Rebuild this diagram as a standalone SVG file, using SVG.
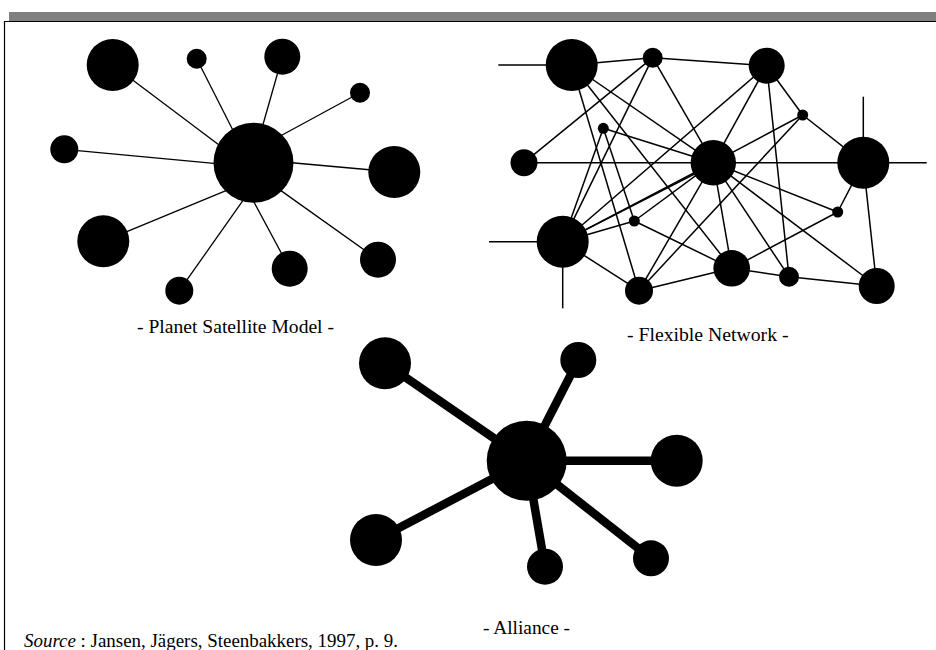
<svg xmlns="http://www.w3.org/2000/svg" width="936" height="650" viewBox="0 0 936 650">
<style>
.n{fill:#000}
.thin{stroke:#000;stroke-width:1.3;fill:none}
.net{stroke:#000;stroke-width:1.5;fill:none}
.thick{stroke:#000;stroke-width:8.5;fill:none}
text{font-family:'Liberation Serif',serif;fill:#000}
.lbl{font-size:19.5px}
.src{font-size:19px}
</style>
<rect x="0" y="0" width="936" height="650" fill="#fff"/>
<g id="frame">
<rect x="9" y="12" width="927" height="9.5" fill="#808080"/>
<path d="M4.5 650 V21.5 H936" stroke="#000" stroke-width="1.2" fill="none"/>
</g>

<!-- Planet Satellite Model -->
<g id="planet-connectors" class="thin">
<line x1="112.7" y1="65" x2="220.7" y2="146.3"/>
<line x1="196.7" y1="58.7" x2="234.6" y2="133.5"/>
<line x1="282.3" y1="56.7" x2="262" y2="128"/>
<line x1="360" y1="92.7" x2="278.9" y2="136.7"/>
<line x1="64.3" y1="149.3" x2="219.3" y2="163.8"/>
<line x1="394.3" y1="172" x2="289" y2="162.5"/>
<line x1="103.3" y1="241.3" x2="229.6" y2="189.1"/>
<line x1="179.3" y1="290.7" x2="244.6" y2="198.2"/>
<line x1="289.7" y1="268.7" x2="252" y2="198.3"/>
<line x1="378" y1="259.7" x2="279.2" y2="189.4"/>
</g>
<g id="p-hub"><circle class="n" cx="253.5" cy="162.7" r="40"/></g>
<g id="p-s1"><circle class="n" cx="112.7" cy="65" r="26"/></g>
<g id="p-s2"><circle class="n" cx="196.7" cy="58.7" r="10"/></g>
<g id="p-s3"><circle class="n" cx="282.3" cy="56.7" r="18"/></g>
<g id="p-s4"><circle class="n" cx="360" cy="92.7" r="10"/></g>
<g id="p-s5"><circle class="n" cx="64.3" cy="149.3" r="14"/></g>
<g id="p-s6"><circle class="n" cx="394.3" cy="172" r="26"/></g>
<g id="p-s7"><circle class="n" cx="103.3" cy="241.3" r="26"/></g>
<g id="p-s8"><circle class="n" cx="179.3" cy="290.7" r="14"/></g>
<g id="p-s9"><circle class="n" cx="289.7" cy="268.7" r="18"/></g>
<g id="p-s10"><circle class="n" cx="378" cy="259.7" r="18"/></g>
<text class="lbl" font-family="Liberation Serif, serif" x="137" y="333" textLength="197" lengthAdjust="spacingAndGlyphs">- Planet Satellite Model -</text>

<!-- Flexible Network -->
<g id="network-connectors" class="net">
<line x1="498.3" y1="65" x2="571.7" y2="65"/>
<line x1="863.3" y1="96.7" x2="863.3" y2="162.7"/>
<line x1="524" y1="162.7" x2="926.7" y2="162.7"/>
<line x1="489" y1="241.7" x2="562.7" y2="241.7"/>
<line x1="562.7" y1="241.7" x2="562.7" y2="308.3"/>
<line x1="571.7" y1="65" x2="652.7" y2="57.7"/>
<line x1="652.7" y1="57.7" x2="766.7" y2="65.7"/>
<line x1="571.7" y1="65" x2="713.3" y2="162.7"/>
<line x1="571.7" y1="65" x2="731.7" y2="268.3"/>
<line x1="571.7" y1="65" x2="639" y2="290.7"/>
<line x1="652.7" y1="57.7" x2="524" y2="162.7"/>
<line x1="652.7" y1="57.7" x2="562.7" y2="241.7"/>
<line x1="652.7" y1="57.7" x2="713.3" y2="162.7"/>
<line x1="766.7" y1="65.7" x2="713.3" y2="162.7"/>
<line x1="766.7" y1="65.7" x2="562.7" y2="241.7"/>
<line x1="766.7" y1="65.7" x2="789" y2="276.7"/>
<line x1="766.7" y1="65.7" x2="802.7" y2="115"/>
<line x1="802.7" y1="115" x2="713.3" y2="162.7"/>
<line x1="802.7" y1="115" x2="863.3" y2="162.7"/>
<line x1="802.7" y1="115" x2="639" y2="290.7"/>
<line x1="603.3" y1="128.3" x2="713.3" y2="162.7"/>
<line x1="603.3" y1="128.3" x2="562.7" y2="241.7"/>
<line x1="603.3" y1="128.3" x2="634.3" y2="221"/>
<line x1="562.7" y1="241.7" x2="713.3" y2="162.7"/>
<line x1="562.7" y1="241.7" x2="710" y2="166"/>
<line x1="634.3" y1="221" x2="713.3" y2="162.7"/>
<line x1="713.3" y1="162.7" x2="639" y2="290.7"/>
<line x1="713.3" y1="162.7" x2="731.7" y2="268.3"/>
<line x1="713.3" y1="162.7" x2="789" y2="276.7"/>
<line x1="713.3" y1="162.7" x2="876.7" y2="286"/>
<line x1="713.3" y1="162.7" x2="837.7" y2="212"/>
<line x1="863.3" y1="162.7" x2="837.7" y2="212"/>
<line x1="863.3" y1="162.7" x2="876.7" y2="286"/>
<line x1="634.3" y1="221" x2="731.7" y2="268.3"/>
<line x1="634.3" y1="221" x2="562.7" y2="241.7"/>
<line x1="837.7" y1="212" x2="731.7" y2="268.3"/>
<line x1="562.7" y1="241.7" x2="639" y2="290.7"/>
<line x1="639" y1="290.7" x2="731.7" y2="268.3"/>
<line x1="731.7" y1="268.3" x2="789" y2="276.7"/>
<line x1="789" y1="276.7" x2="876.7" y2="286"/>
</g>
<g id="f-A"><circle class="n" cx="571.7" cy="65" r="26"/></g>
<g id="f-B"><circle class="n" cx="652.7" cy="57.7" r="10"/></g>
<g id="f-C"><circle class="n" cx="766.7" cy="65.7" r="18"/></g>
<g id="f-D"><circle class="n" cx="802.7" cy="115" r="5.5"/></g>
<g id="f-E"><circle class="n" cx="603.3" cy="128.3" r="5.5"/></g>
<g id="f-F"><circle class="n" cx="524" cy="162.7" r="13.5"/></g>
<g id="f-G"><circle class="n" cx="713.3" cy="162.7" r="22.7"/></g>
<g id="f-H"><circle class="n" cx="863.3" cy="162.7" r="26"/></g>
<g id="f-I"><circle class="n" cx="634.3" cy="221" r="5.5"/></g>
<g id="f-J"><circle class="n" cx="837.7" cy="212" r="5.5"/></g>
<g id="f-K"><circle class="n" cx="562.7" cy="241.7" r="26"/></g>
<g id="f-L"><circle class="n" cx="639" cy="290.7" r="14"/></g>
<g id="f-M"><circle class="n" cx="731.7" cy="268.3" r="18.3"/></g>
<g id="f-N"><circle class="n" cx="789" cy="276.7" r="10"/></g>
<g id="f-O"><circle class="n" cx="876.7" cy="286" r="18"/></g>
<text class="lbl" font-family="Liberation Serif, serif" x="627" y="341" textLength="161.5" lengthAdjust="spacingAndGlyphs">- Flexible Network -</text>

<!-- Alliance -->
<g id="alliance-connectors" class="thick">
<line x1="526.7" y1="460.7" x2="385" y2="363.3"/>
<line x1="526.7" y1="460.7" x2="578.3" y2="360"/>
<line x1="526.7" y1="460.7" x2="676.7" y2="460.7"/>
<line x1="526.7" y1="460.7" x2="376" y2="540"/>
<line x1="526.7" y1="460.7" x2="545" y2="566.7"/>
<line x1="526.7" y1="460.7" x2="651" y2="558.3"/>
</g>
<g id="a-hub"><circle class="n" cx="526.7" cy="460.7" r="40"/></g>
<g id="a-s1"><circle class="n" cx="385" cy="363.3" r="26"/></g>
<g id="a-s2"><circle class="n" cx="578.3" cy="360" r="18"/></g>
<g id="a-s3"><circle class="n" cx="676.7" cy="460.7" r="26"/></g>
<g id="a-s4"><circle class="n" cx="376" cy="540" r="26"/></g>
<g id="a-s5"><circle class="n" cx="545" cy="566.7" r="18"/></g>
<g id="a-s6"><circle class="n" cx="651" cy="558.3" r="18"/></g>
<text class="lbl" font-family="Liberation Serif, serif" x="483" y="633.5" textLength="87" lengthAdjust="spacingAndGlyphs">- Alliance -</text>

<text class="src" font-family="Liberation Serif, serif" x="24" y="646.5" textLength="374" lengthAdjust="spacingAndGlyphs"><tspan font-style="italic">Source</tspan> : Jansen, Jägers, Steenbakkers, 1997, p. 9.</text>
</svg>
